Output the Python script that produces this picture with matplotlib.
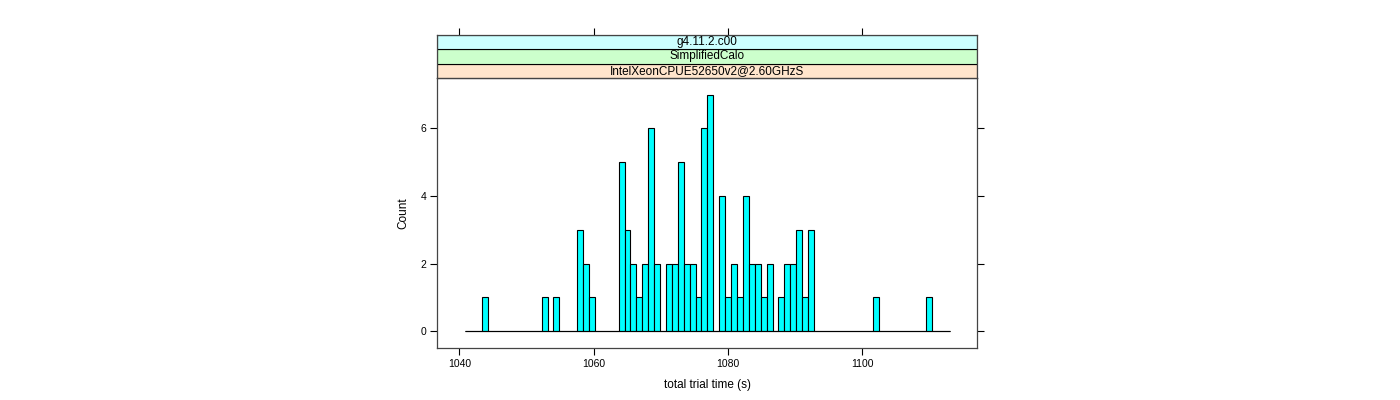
import numpy as np
import matplotlib
matplotlib.use('Agg')
import matplotlib.pyplot as plt
from matplotlib.patches import Rectangle

# Histogram (82 equal bins)
bin_lo = 1040.8
bin_hi = 1113.07
counts = [0, 0, 0, 1, 0, 0, 0, 0, 0, 0,
          0, 0, 0, 1, 0, 1, 0, 0, 0, 3,
          2, 1, 0, 0, 0, 0, 5, 3, 2, 1,
          2, 6, 2, 0, 2, 2, 5, 2, 2, 1,
          6, 7, 0, 4, 1, 2, 1, 4, 2, 2,
          1, 2, 0, 1, 2, 2, 3, 1, 3, 0,
          0, 0, 0, 0, 0, 0, 0, 0, 0, 1,
          0, 0, 0, 0, 0, 0, 0, 0, 1, 0,
          0, 0]
x_ticks = [1040, 1060, 1080, 1100]
y_ticks = [0, 2, 4, 6]
strip_labels = ['IntelXeonCPUE52650v2@2.60GHzS', 'SimplifiedCalo', 'g4.11.2.c00']
strip_colors = ['#FFE5CC', '#CCFFCC', '#CCFFFF']

plt.rcParams['font.family'] = ['Liberation Sans', 'DejaVu Sans']

W, H = 1400, 400
fig = plt.figure(figsize=(W / 100, H / 100), dpi=100)

def box(x0, y0, x1, y1):
    return [x0 / W, 1 - y1 / H, (x1 - x0) / W, (y1 - y0) / H]

ax = fig.add_axes(box(437.3, 78.3, 977.3, 347.7))
edges = np.linspace(bin_lo, bin_hi, len(counts) + 1)
ax.bar(edges[:-1], counts, width=np.diff(edges), align='edge',
       color='#00FFFF', edgecolor='black', linewidth=0.8)
ax.hlines(0, bin_lo, bin_hi, color='black', linewidth=0.8)
ax.set_xlim(1036.72, 1117.12)
ax.set_ylim(-0.49, 7.48)
ax.set_xticks(x_ticks)
ax.set_yticks(y_ticks)
ax.tick_params(direction='out', length=5, width=0.8, labelsize=7.5,
               right=True, pad=3, colors='black')
for s in ax.spines.values():
    s.set_linewidth(0.9)
    s.set_color('#444444')
ax.set_xlabel('total trial time (s)', fontsize=8.5, labelpad=7)
ax.set_ylabel('Count', fontsize=8.5, labelpad=8)

# strips above the panel
sax = fig.add_axes(box(437.3, 34.7, 977.3, 78.3), sharex=ax)
sax.set_ylim(0, 3)
for i, (lab, col) in enumerate(zip(strip_labels, strip_colors)):
    sax.add_patch(Rectangle((1036.72, i), 1117.12 - 1036.72, 1, facecolor=col,
                            edgecolor='black', linewidth=0.8))
    sax.text(1076.92, i + 0.5, lab, ha='center', va='center', fontsize=8.5)
sax.tick_params(axis='x', top=True, bottom=False, labeltop=False, labelbottom=False,
                direction='out', length=5, width=0.8)
sax.tick_params(axis='y', left=False, labelleft=False)
for s in sax.spines.values():
    s.set_linewidth(0.9)
    s.set_color('#444444')

fig.savefig('out.png', dpi=100)
